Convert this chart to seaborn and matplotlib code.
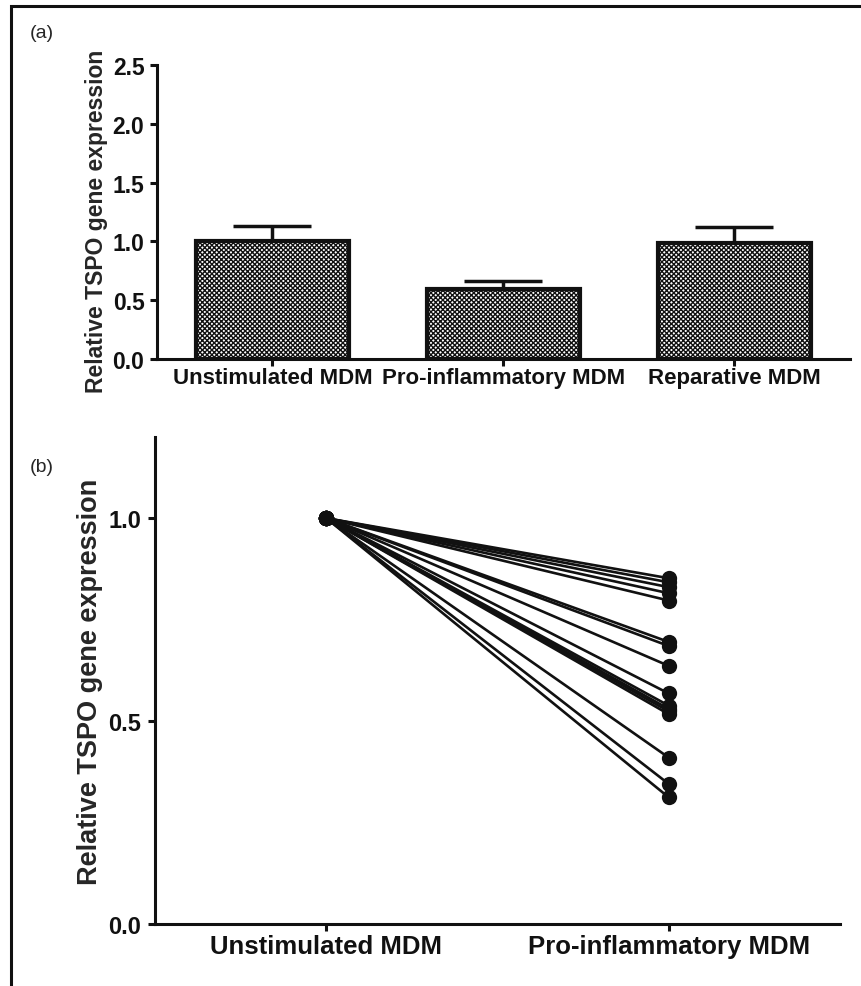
import numpy as np
import pandas as pd
import matplotlib
matplotlib.use("Agg")
import matplotlib.pyplot as plt
import matplotlib.patches as mpatches
import seaborn as sns

# --- panel (a): mean relative expression with upper SEM ---
bar_groups = ["Unstimulated MDM", "Pro-inflammatory MDM", "Reparative MDM"]
bar_means = [1.0, 0.595, 0.985]
bar_sem = [0.13, 0.065, 0.135]

# --- panel (b): paired donors, unstimulated vs pro-inflammatory ---
pair_groups = ["Unstimulated MDM", "Pro-inflammatory MDM"]
unstim_vals = [1.0] * 16
proinf_vals = [0.852, 0.842, 0.830, 0.815, 0.797, 0.695, 0.685, 0.636,
               0.568, 0.538, 0.530, 0.524, 0.517, 0.410, 0.345, 0.312]

sns.set_theme(style="ticks")
plt.rcParams["font.family"] = ["Liberation Sans", "DejaVu Sans"]
plt.rcParams["hatch.linewidth"] = 1.0

fig = plt.figure(figsize=(8.62, 9.87), dpi=100)

# outer frame of the figure
frame = mpatches.Rectangle((11 / 862, -0.05), 1.0, 1.05 - 7 / 987,
                           transform=fig.transFigure, fill=False,
                           edgecolor="#111111", linewidth=2.2, clip_on=False)
fig.patches.append(frame)

# ---------------- (a) ----------------
ax1 = fig.add_axes([157 / 862, 1 - 360 / 987, (850 - 157) / 862, (360 - 66) / 987])
df_a = pd.DataFrame({"group": bar_groups, "value": bar_means})
sns.barplot(data=df_a, x="group", y="value", ax=ax1, color="white",
            edgecolor="#111111", linewidth=3, width=0.66, errorbar=None,
            hatch="xxxxxxx", zorder=2)
ax1.errorbar(range(len(bar_groups)), bar_means,
             yerr=[np.zeros(len(bar_sem)), bar_sem], fmt="none",
             ecolor="#111111", elinewidth=2.5, capsize=28, capthick=2.5, zorder=1)
ax1.set_ylim(0, 2.5)
ax1.set_xlim(-0.5, 2.5)
ax1.set_yticks([0, 0.5, 1.0, 1.5, 2.0, 2.5])
ax1.set_yticklabels(["0.0", "0.5", "1.0", "1.5", "2.0", "2.5"])
ax1.set_xlabel("")
ax1.set_ylabel("Relative TSPO gene expression", fontsize=16.5, fontweight="bold", labelpad=3)
ax1.yaxis.label.set_y(0.47)
sns.despine(ax=ax1)
for s in ["left", "bottom"]:
    ax1.spines[s].set_linewidth(2.2)
    ax1.spines[s].set_color("#111111")
ax1.tick_params(axis="both", length=5, width=2.2, color="#111111")
ax1.tick_params(axis="y", labelsize=16.5, pad=4)
ax1.tick_params(axis="x", labelsize=16, pad=1)
for lab in ax1.get_xticklabels() + ax1.get_yticklabels():
    lab.set_fontweight("bold")
    lab.set_color("#111111")

# ---------------- (b) ----------------
ax2 = fig.add_axes([155 / 862, 1 - 925 / 987, (840 - 155) / 862, (925 - 438) / 987])
rows = []
for i, (u, p) in enumerate(zip(unstim_vals, proinf_vals)):
    rows.append({"donor": i, "pos": 0, "value": u})
    rows.append({"donor": i, "pos": 1, "value": p})
df_b = pd.DataFrame(rows)
sns.lineplot(data=df_b, x="pos", y="value", units="donor", estimator=None,
             color="#111111", linewidth=1.9, marker="o", markersize=11,
             markeredgewidth=0, ax=ax2, legend=False)
ax2.set_xlim(-0.5, 1.5)
ax2.set_ylim(0, 1.2)
ax2.set_xticks([0, 1])
ax2.set_xticklabels(pair_groups)
ax2.set_yticks([0, 0.5, 1.0])
ax2.set_yticklabels(["0.0", "0.5", "1.0"])
ax2.set_xlabel("")
ax2.set_ylabel("Relative TSPO gene expression", fontsize=19.5, fontweight="bold", labelpad=4)
sns.despine(ax=ax2)
for s in ["left", "bottom"]:
    ax2.spines[s].set_linewidth(2.2)
    ax2.spines[s].set_color("#111111")
ax2.tick_params(axis="both", length=5, width=2.2, color="#111111")
ax2.tick_params(axis="y", labelsize=17, pad=5)
ax2.tick_params(axis="x", labelsize=18.5, pad=2)
for lab in ax2.get_xticklabels() + ax2.get_yticklabels():
    lab.set_fontweight("bold")
    lab.set_color("#111111")

# panel letters
fig.text(30 / 862, 1 - 33 / 987, "(a)", fontsize=14, va="center", ha="left")
fig.text(30 / 862, 1 - 468 / 987, "(b)", fontsize=14, va="center", ha="left")

fig.savefig("out.png", dpi=100)
